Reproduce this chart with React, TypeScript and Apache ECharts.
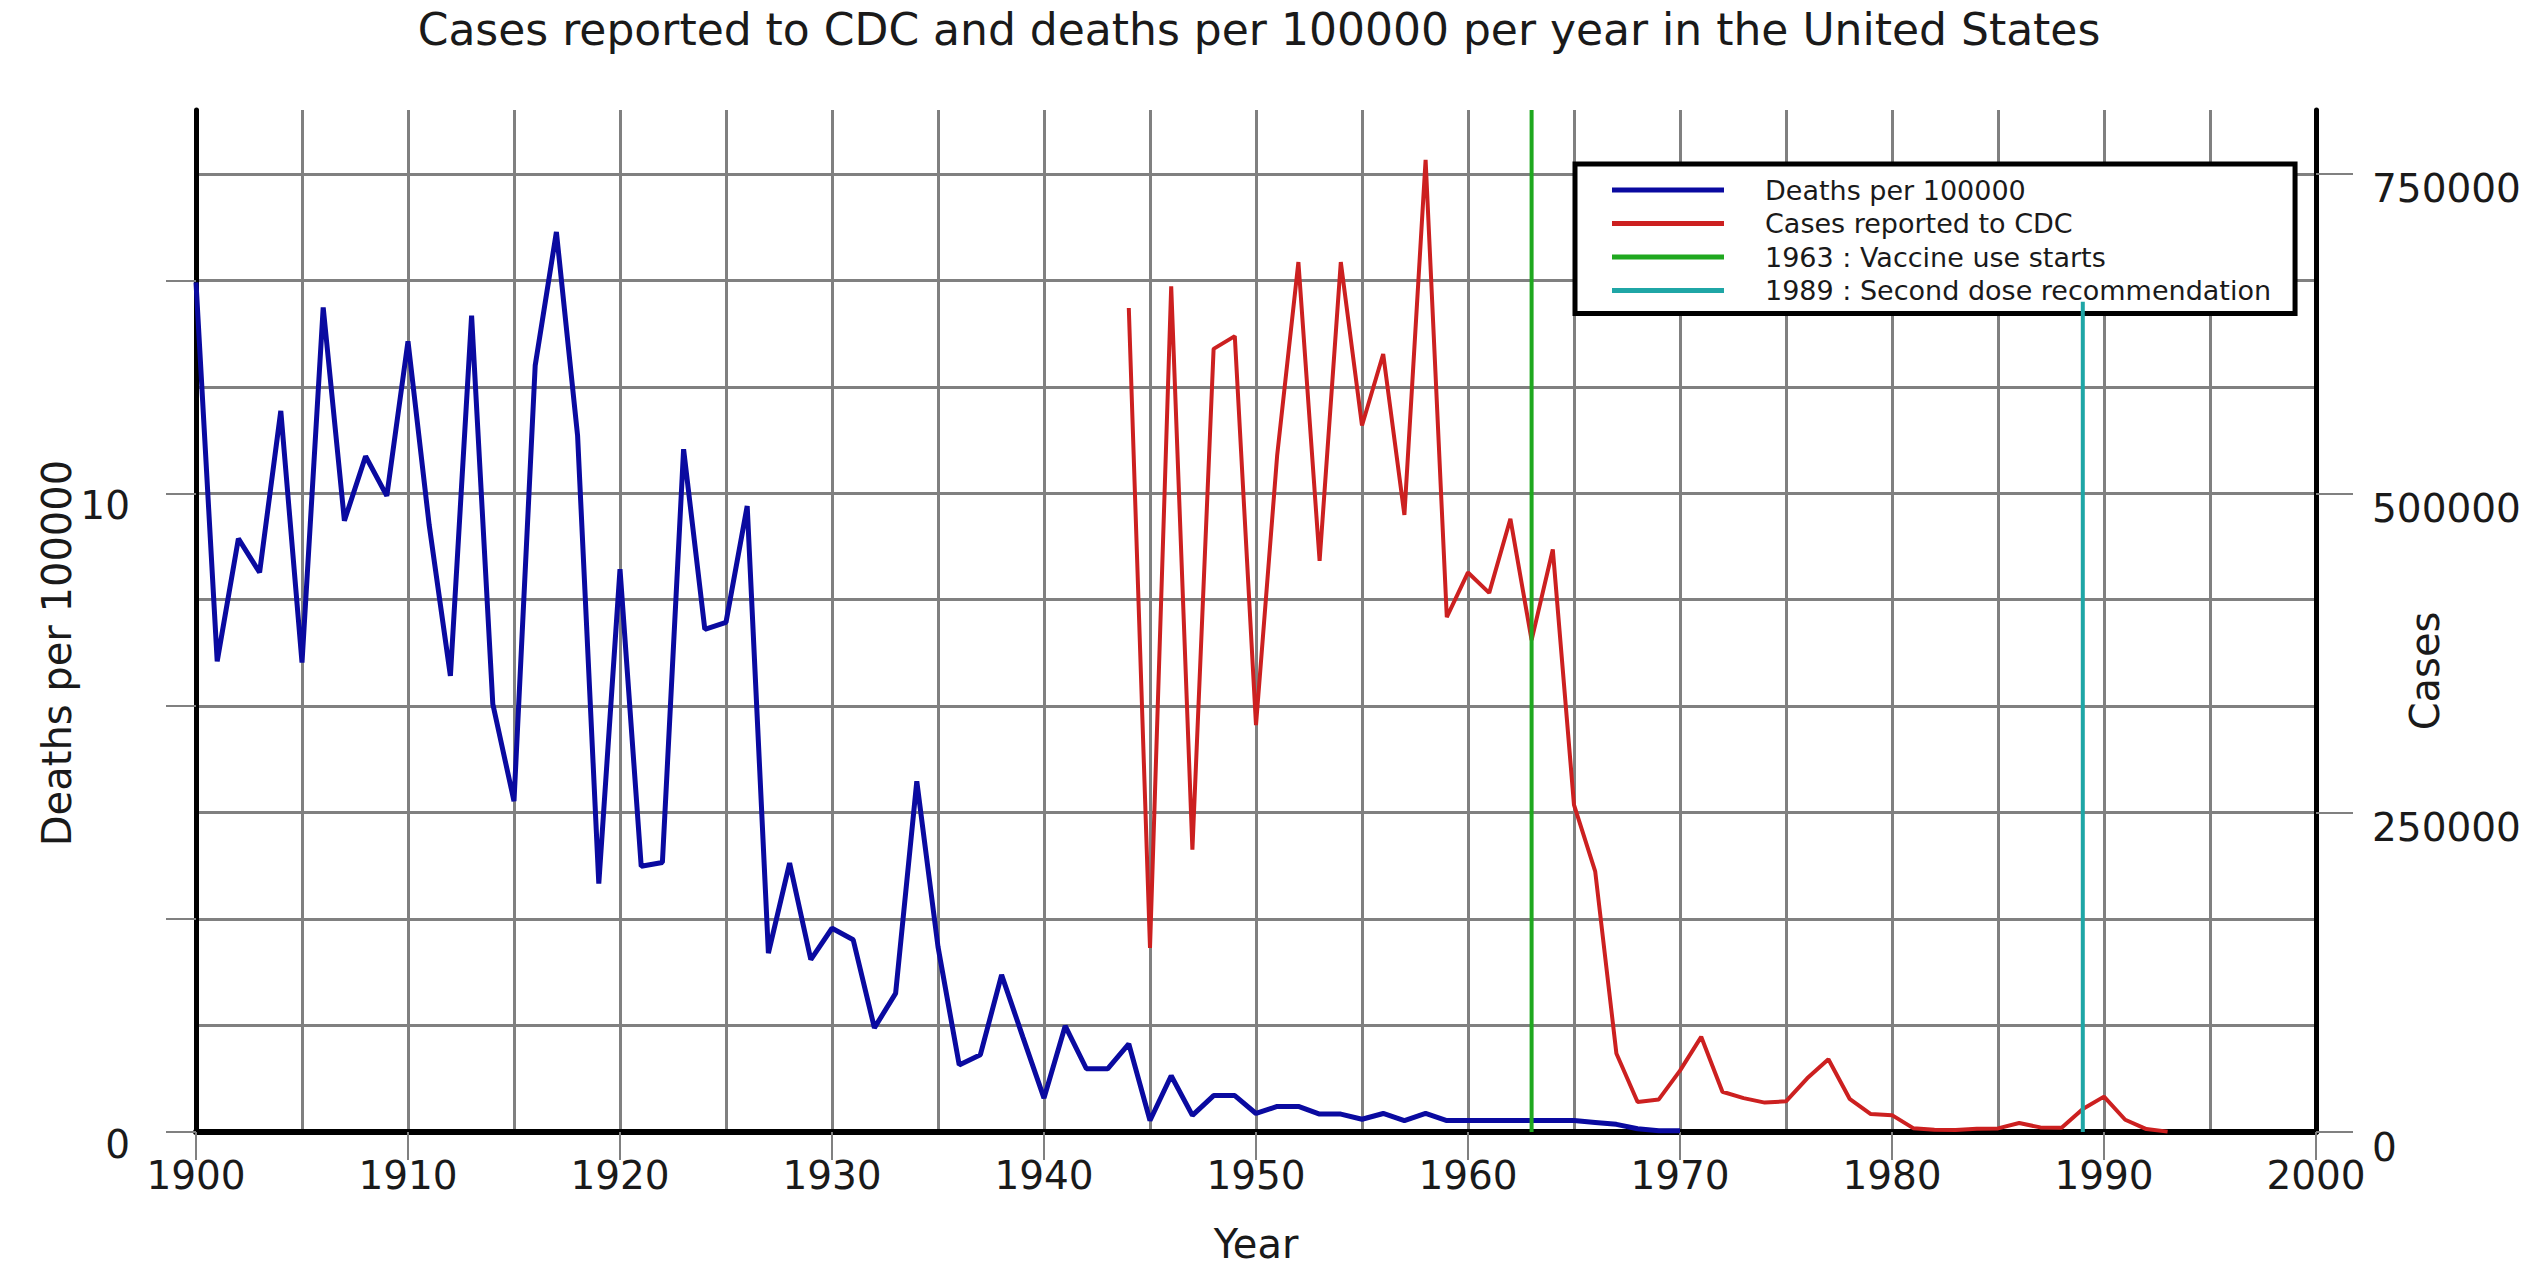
import React, { useEffect, useRef } from "react";
import * as echarts from "echarts";

const TITLE = "Cases reported to CDC and deaths per 100000 per year in the United States";

const deathYears = [
  1900, 1901, 1902, 1903, 1904, 1905, 1906, 1907, 1908, 1909,
  1910, 1911, 1912, 1913, 1914, 1915, 1916, 1917, 1918, 1919,
  1920, 1921, 1922, 1923, 1924, 1925, 1926, 1927, 1928, 1929,
  1930, 1931, 1932, 1933, 1934, 1935, 1936, 1937, 1938, 1939,
  1940, 1941, 1942, 1943, 1944, 1945, 1946, 1947, 1948, 1949,
  1950, 1951, 1952, 1953, 1954, 1955, 1956, 1957, 1958, 1959,
  1960, 1961, 1962, 1963, 1964, 1965, 1966, 1967, 1968, 1969, 1970,
];
const deathsPer100000 = [
  13.3, 7.37, 9.29, 8.76, 11.29, 7.35, 12.91, 9.57, 10.58, 9.96,
  12.38, 9.5, 7.14, 12.78, 6.7, 5.18, 12.0, 14.09, 10.9, 3.89,
  8.81, 4.16, 4.22, 10.69, 7.87, 7.98, 9.8, 2.8, 4.21, 2.7,
  3.19, 3.01, 1.63, 2.17, 5.49, 2.9, 1.05, 1.21, 2.46, 1.49,
  0.53, 1.66, 0.99, 0.99, 1.38, 0.18, 0.88, 0.26, 0.57, 0.57,
  0.29, 0.4, 0.4, 0.28, 0.28, 0.2, 0.29, 0.18, 0.29, 0.18,
  0.18, 0.18, 0.18, 0.18, 0.18, 0.18, 0.15, 0.12, 0.05, 0.02, 0.02,
];

const caseYears = [
  1944, 1945, 1946, 1947, 1948, 1949, 1950, 1951, 1952, 1953,
  1954, 1955, 1956, 1957, 1958, 1959, 1960, 1961, 1962, 1963,
  1964, 1965, 1966, 1967, 1968, 1969, 1970, 1971, 1972, 1973,
  1974, 1975, 1976, 1977, 1978, 1979, 1980, 1981, 1982, 1983,
  1984, 1985, 1986, 1987, 1988, 1989, 1990, 1991, 1992, 1993,
];
const casesReported = [
  645000, 144000, 662000, 221000, 613000, 623000, 318500, 530000, 681000, 447000,
  681000, 553000, 609000, 483000, 761000, 403000, 438000, 422000, 480000, 385000,
  456000, 256000, 204000, 61500, 23500, 25500, 48000, 74500, 31500, 26500,
  23000, 24000, 42000, 57000, 26000, 14000, 13200, 3000, 1800, 1600,
  2500, 2800, 7000, 3600, 3400, 18000, 27700, 9600, 2300, 300,
];

const vaccineLine = { name: "1963 : Vaccine use starts", year: 1963, top: 800000 };
const secondDoseLine = { name: "1989 : Second dose recommendation", year: 1989, top: 650000 };

const leftTickValues = [0, 10 / 3, 20 / 3, 10, 40 / 3];
const leftLabelValues = [0, 10];
const rightTickValues = [0, 250000, 500000, 750000];

const FONT = "DejaVu Sans";
const GRID_COLOR = "#808080";
const TEXT_COLOR = "#1a1a1a";

const hiddenAxisParts = {
  axisLine: { show: false },
  axisTick: { show: false },
  axisLabel: { show: false },
};

export default function App() {
  const ref = useRef<HTMLDivElement>(null);

  useEffect(() => {
    if (!ref.current) return;
    const chart = echarts.init(ref.current, undefined, { renderer: "svg" });

    const option: any = {
      animation: false,
      backgroundColor: "#ffffff",
      title: {
        text: TITLE,
        left: 1254,
        textAlign: "center",
        top: 2,
        textStyle: { fontFamily: FONT, fontSize: 44, fontWeight: "normal", color: TEXT_COLOR },
      },
      grid: { left: 196, right: 219, top: 110, bottom: 144, containLabel: false, outerBoundsMode: "none" },
      legend: {
        orient: "vertical",
        left: 1575,
        top: 164,
        z: 1,
        selectedMode: false,
        backgroundColor: "#ffffff",
        borderColor: "#000000",
        borderWidth: 5,
        borderRadius: 0,
        padding: [12, 24, 9, 37],
        icon: "rect",
        itemWidth: 112,
        itemHeight: 5,
        itemGap: 5.5,
        textStyle: {
          fontFamily: FONT,
          fontSize: 27,
          color: TEXT_COLOR,
          lineHeight: 28,
          padding: [0, 0, 0, 36],
        },
        data: ["Deaths per 100000", "Cases reported to CDC", vaccineLine.name, secondDoseLine.name],
      },
      xAxis: [
        {
          type: "value",
          position: "bottom",
          min: 1900,
          max: 2000,
          interval: 10,
          name: "Year",
          nameLocation: "middle",
          nameGap: 92,
          nameMoveOverlap: false,
          nameTextStyle: { fontFamily: FONT, fontSize: 40, color: TEXT_COLOR },
          axisLine: { show: true, onZero: false, lineStyle: { color: "#000", width: 6 } },
          axisTick: { show: true, length: 28, lineStyle: { color: GRID_COLOR, width: 2 } },
          axisLabel: {
            margin: 24,
            fontFamily: FONT,
            fontSize: 39,
            color: TEXT_COLOR,
            formatter: (v: number) => String(Math.round(v)),
          },
          splitLine: { show: false },
          z: 2,
        },
        {
          type: "value",
          position: "top",
          min: 1900,
          max: 2000,
          interval: 5,
          ...hiddenAxisParts,
          splitLine: { show: true, showMinLine: false, showMaxLine: false, lineStyle: { color: GRID_COLOR, width: 3 } },
          z: 0,
        },
      ],
      yAxis: [
        {
          type: "value",
          position: "left",
          min: 0,
          max: 16,
          interval: 10 / 3,
          name: "Deaths per 100000",
          nameLocation: "middle",
          nameGap: 119,
          nameMoveOverlap: false,
          nameTextStyle: { fontFamily: FONT, fontSize: 40, color: TEXT_COLOR, padding: [0, 64, 0, 0] },
          axisLine: { show: true, lineStyle: { color: "#000", width: 5 } },
          axisTick: { show: true, customValues: leftTickValues, length: 30, lineStyle: { color: GRID_COLOR, width: 2 } },
          axisLabel: {
            customValues: leftLabelValues,
            margin: 66,
            fontFamily: FONT,
            fontSize: 39,
            color: TEXT_COLOR,
            verticalAlign: "top",
            lineHeight: 24,
            formatter: (v: number) => (Math.abs(v) < 1e-6 ? "0" : Math.abs(v - 10) < 1e-6 ? "10" : ""),
          },
          splitLine: { show: false },
          z: 2,
        },
        {
          type: "value",
          position: "right",
          min: 0,
          max: 800000,
          interval: 250000,
          name: "Cases",
          nameLocation: "middle",
          nameGap: 89,
          nameMoveOverlap: false,
          nameTextStyle: { fontFamily: FONT, fontSize: 40, color: TEXT_COLOR, padding: [0, 100, 0, 0] },
          axisLine: { show: true, lineStyle: { color: "#000", width: 5 } },
          axisTick: { show: true, customValues: rightTickValues, length: 37, lineStyle: { color: GRID_COLOR, width: 2 } },
          axisLabel: {
            customValues: rightTickValues,
            margin: 56,
            fontFamily: FONT,
            fontSize: 39,
            color: TEXT_COLOR,
            verticalAlign: "top",
            lineHeight: 30,
            formatter: (v: number) => {
              const r = Math.round(v);
              return r % 250000 === 0 ? String(r) : "";
            },
          },
          splitLine: { show: false },
          z: 2,
        },
        {
          type: "value",
          position: "right",
          min: 0,
          max: 800000,
          interval: 250000 / 3,
          ...hiddenAxisParts,
          splitLine: { show: true, showMinLine: false, showMaxLine: false, lineStyle: { color: GRID_COLOR, width: 3 } },
          z: 0,
        },
      ],
      series: [
        {
          name: "Deaths per 100000",
          type: "line",
          xAxisIndex: 0,
          yAxisIndex: 0,
          symbol: "none",
          z: 3,
          color: "#0a0aa0",
          lineStyle: { color: "#0a0aa0", width: 5 },
          data: deathYears.map((y, i) => [y, deathsPer100000[i]]),
        },
        {
          name: "Cases reported to CDC",
          type: "line",
          xAxisIndex: 0,
          yAxisIndex: 1,
          symbol: "none",
          z: 3,
          color: "#cc2020",
          lineStyle: { color: "#cc2020", width: 4 },
          data: caseYears.map((y, i) => [y, casesReported[i]]),
        },
        {
          name: vaccineLine.name,
          type: "line",
          xAxisIndex: 0,
          yAxisIndex: 1,
          symbol: "none",
          z: 3,
          color: "#1fa81f",
          lineStyle: { color: "#1fa81f", width: 4 },
          data: [[vaccineLine.year, 0], [vaccineLine.year, vaccineLine.top]],
        },
        {
          name: secondDoseLine.name,
          type: "line",
          xAxisIndex: 0,
          yAxisIndex: 1,
          symbol: "none",
          z: 3,
          color: "#1fa6a6",
          lineStyle: { color: "#1fa6a6", width: 4 },
          data: [[secondDoseLine.year, 0], [secondDoseLine.year, secondDoseLine.top]],
        },
      ],
    };

    chart.setOption(option);
    return () => chart.dispose();
  }, []);

  return (
    <div
      ref={ref}
      style={{ position: "fixed", left: 0, top: 0, width: "2535px", height: "1276px", background: "#fff" }}
    />
  );
}
